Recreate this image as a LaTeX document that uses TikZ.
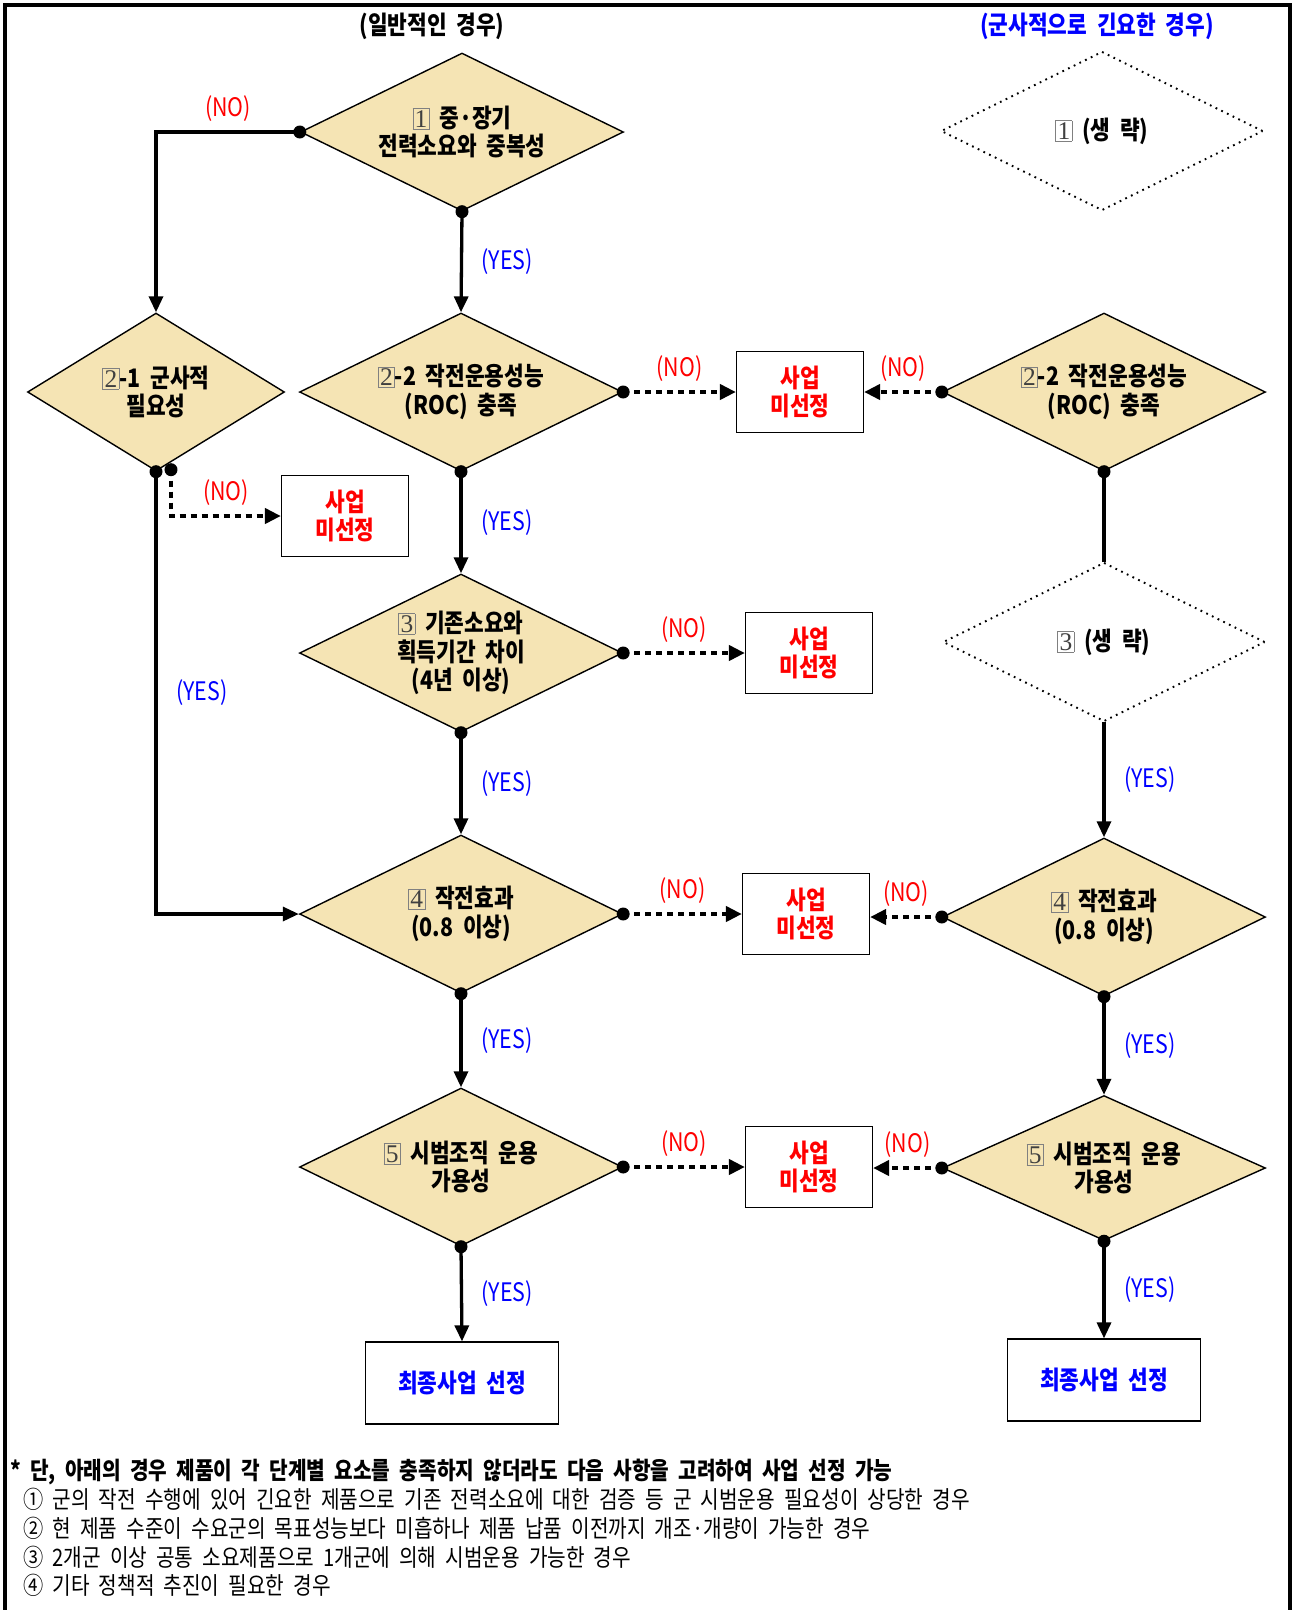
\documentclass[tikz,border=0pt]{standalone}
\usepackage{fontspec}
\setmainfont{Noto Sans CJK KR}[FakeStretch=0.84,WordSpace=2]
\newfontfamily\numfont{Liberation Serif}
\usepackage{xcolor}
\definecolor{mywheat}{RGB}{245,228,180}
\definecolor{myred}{RGB}{255,0,0}
\definecolor{myblue}{RGB}{0,0,255}
\usepackage{tikz}
\usetikzlibrary{shapes.geometric,arrows.meta,positioning}
\tikzstyle{decision}=[diamond,draw,fill=mywheat,line width=0.8pt,aspect=2,inner sep=0pt,minimum width=6.46cm,minimum height=3.16cm,align=center,font=\bfseries]
\tikzstyle{omitted}=[diamond,draw,dash pattern=on 1pt off 2.6pt,line width=1.1pt,aspect=2,inner sep=0pt,minimum width=6.44cm,minimum height=3.18cm,align=center,font=\bfseries]
\tikzstyle{reject}=[rectangle,draw,line width=0.7pt,minimum width=2.54cm,minimum height=1.62cm,align=center,text=myred,font=\bfseries]
\tikzstyle{final}=[rectangle,draw,line width=0.7pt,minimum width=3.86cm,minimum height=1.64cm,text=myblue,font=\bfseries]
\tikzstyle{yes}=[line width=0.066cm,-{Triangle[length=0.32cm,width=0.28cm]}]
\tikzstyle{no}=[line width=0.085cm,dash pattern=on 0.12cm off 0.1cm,-{Triangle[length=0.32cm,width=0.3cm]}]
\tikzstyle{link}=[line width=0.066cm]
\tikzstyle{yeslabel}=[text=myblue,right=0.2cm]
\tikzstyle{nolabel}=[text=myred,above=0cm]
\tikzstyle{note}=[anchor=west,inner sep=0pt,font=\fontsize{13.7}{16.4}\selectfont]
\newcommand\stepno[1]{{\setlength\fboxsep{0.8pt}\setlength\fboxrule{0.4pt}\color{gray}\fbox{\numfont\mdseries\color{darkgray}#1}}}

\begin{document}
\fontsize{14.5}{16.4}\selectfont
\begin{tikzpicture}[x=0.02cm,y=-0.02cm]
\useasboundingbox (0,0) rectangle (1294,1610);
\draw[line width=0.08cm] (5,1610) -- (5,5) -- (1290,5) -- (1290,1610);

\node[font=\bfseries] (general) at (432,26) {(일반적인 경우)};
\node[font=\bfseries,text=myblue] (urgent) at (1097,26) {(군사적으로 긴요한 경우)};

% general case
\node[decision] (d1) at (462,132) {\stepno{1} 중·장기\\전력소요와 중복성};
\node[decision,minimum width=5.14cm] (d21) at (156,392) {\stepno{2}-1 군사적\\필요성};
\node[decision] (d22) at (461,392) {\stepno{2}-2 작전운용성능\\(ROC) 충족};
\node[decision] (d3) at (461,653) {\stepno{3} 기존소요와\\획득기간 차이\\(4년 이상)};
\node[decision] (d4) at (461,914) {\stepno{4} 작전효과\\(0.8 이상)};
\node[decision] (d5) at (461,1167) {\stepno{5} 시범조직 운용\\가용성};
\node[final] (f1) at (462,1383) {최종사업 선정};

\node[reject] (b21) at (345,516) {사업\\미선정};
\node[reject] (b22) at (800,392) {사업\\미선정};
\node[reject] (b3) at (809,653) {사업\\미선정};
\node[reject] (b4) at (806,914) {사업\\미선정};
\node[reject] (b5) at (809,1167) {사업\\미선정};

% urgent case
\node[omitted] (d1r) at (1102,131) {\stepno{1} (생 략)};
\node[decision] (d22r) at (1104,392) {\stepno{2}-2 작전운용성능\\(ROC) 충족};
\node[omitted] (d3r) at (1104,642) {\stepno{3} (생 략)};
\node[decision] (d4r) at (1104,917) {\stepno{4} 작전효과\\(0.8 이상)};
\node[decision,minimum height=2.9cm] (d5r) at (1104,1168) {\stepno{5} 시범조직 운용\\가용성};
\node[final] (f2) at (1104,1380) {최종사업 선정};

\coordinate (d21no) at ([xshift=0.3cm,yshift=0.04cm]d21.south);

\draw[yes] (d1.west) -| node[nolabel,pos=0.25] {(NO)} (d21.north);
\draw[yes] (d1.south) -- node[yeslabel,midway] {(YES)} (d22.north);
\draw[yes] (d21.south) |- node[yeslabel,pos=0.25] {(YES)} (d4.west);
\draw[no] (d21no) |- node[nolabel,pos=0.75] {(NO)} (b21.west);
\draw[no] (d22.east) -- node[nolabel,midway] {(NO)} (b22.west);
\draw[yes] (d22.south) -- node[yeslabel,midway] {(YES)} (d3.north);
\draw[no] (d3.east) -- node[nolabel,midway] {(NO)} (b3.west);
\draw[yes] (d3.south) -- node[yeslabel,midway] {(YES)} (d4.north);
\draw[no] (d4.east) -- node[nolabel,midway] {(NO)} (b4.west);
\draw[yes] (d4.south) -- node[yeslabel,midway] {(YES)} (d5.north);
\draw[no] (d5.east) -- node[nolabel,midway] {(NO)} (b5.west);
\draw[yes] (d5.south) -- node[yeslabel,midway] {(YES)} (f1.north);

\draw[no] (d22r.west) -- node[nolabel,midway] {(NO)} (d22r.west -| b22.east);
\draw[link] (d22r.south) -- (d3r.north);
\draw[yes] (d3r.south) -- node[yeslabel,midway] {(YES)} (d4r.north);
\draw[no] (d4r.west) -- node[nolabel,midway] {(NO)} (d4r.west -| b4.east);
\draw[yes] (d4r.south) -- node[yeslabel,midway] {(YES)} (d5r.north);
\draw[no] (d5r.west) -- node[nolabel,midway] {(NO)} (d5r.west -| b5.east);
\draw[yes] (d5r.south) -- node[yeslabel,midway] {(YES)} (f2.north);

\foreach \p in {d1.west,d1.south,d21.south,d21no,d22.south,d22.east,d22r.west,d22r.south,
  d3.east,d3.south,d4.east,d4.south,d4r.west,d4r.south,d5.east,d5.south,d5r.west,d5r.south}
  \fill (\p) circle (0.13cm);

% footnote
\node[note,font=\fontsize{13.7}{16.4}\selectfont\bfseries] (star) at (10,1472) {* 단, 아래의 경우 제품이 각 단계별 요소를 충족하지 않더라도 다음 사항을 고려하여 사업 선정 가능};
\foreach \t [count=\i] in {{① 군의 작전 수행에 있어 긴요한 제품으로 기존 전력소요에 대한 검증 등 군 시범운용 필요성이 상당한 경우},
  {② 현 제품 수준이 수요군의 목표성능보다 미흡하나 제품 납품 이전까지 개조·개량이 가능한 경우},
  {③ 2개군 이상 공통 소요제품으로 1개군에 의해 시범운용 가능한 경우},
  {④ 기타 정책적 추진이 필요한 경우}}
  \node[note] (note\i) at (23,{1471+28.7*\i}) {\t};
\end{tikzpicture}
\end{document}
